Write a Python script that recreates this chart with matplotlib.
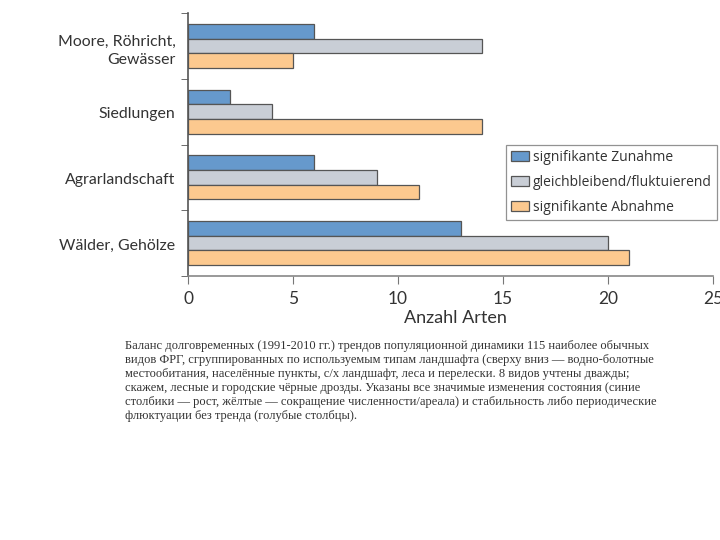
import matplotlib
matplotlib.use("Agg")
import matplotlib.pyplot as plt
import numpy as np

categories = ["Moore, Röhricht,\nGewässer", "Siedlungen", "Agrarlandschaft", "Wälder, Gehölze"]
series_names = ["signifikante Zunahme", "gleichbleibend/fluktuierend", "signifikante Abnahme"]
zunahme = [6, 2, 6, 13]
gleich = [14, 4, 9, 20]
abnahme = [5, 14, 11, 21]
xticks = [0, 5, 10, 15, 20, 25]
xlabel = "Anzahl Arten"
caption = ("Баланс долговременных (1991-2010 гг.) трендов популяционной динамики 115 наиболее обычных\n"
           "видов ФРГ, сгруппированных по используемым типам ландшафта (сверху вниз — водно-болотные\n"
           "местообитания, населённые пункты, с/х ландшафт, леса и перелески. 8 видов учтены дважды;\n"
           "скажем, лесные и городские чёрные дрозды. Указаны все значимые изменения состояния (синие\n"
           "столбики — рост, жёлтые — сокращение численности/ареала) и стабильность либо периодические\n"
           "флюктуации без тренда (голубые столбцы).")

colors = ["#6699cc", "#c9ced6", "#fcc98f"]
edge = "#555555"
txt = "#333333"

fig = plt.figure(figsize=(7.2, 5.4), dpi=100)
W, H = 720, 540
ax = fig.add_axes([188 / W, 1 - 276 / H, (713 - 188) / W, (276 - 13) / H])

n = len(categories)
y = np.arange(n)
bh = 0.223
for i, (vals, c, name) in enumerate(zip([zunahme, gleich, abnahme], colors, series_names)):
    ax.barh(y + (i - 1) * bh, vals, height=bh, color=c, edgecolor=edge, linewidth=0.9, label=name)

ax.set_ylim(n - 0.5, -0.5)
ax.set_xlim(0, 25)
ax.set_yticks(y + 0.02)
ax.set_yticklabels(categories, fontsize=11.4, color=txt, family="Lato", linespacing=1.35)
ax.tick_params(axis="y", length=0, pad=9)
ax.set_yticks(np.arange(n + 1) - 0.5, minor=True)
ax.tick_params(axis="y", which="minor", length=5, color="#555555", direction="out")
ax.set_xticks(xticks)
ax.set_xticklabels([str(t) for t in xticks], fontsize=12.5, color=txt, family="Lato")
ax.tick_params(axis="x", length=6, color="#777777", pad=5)
ax.set_xlabel(xlabel, fontsize=13, color=txt, family="Lato", labelpad=5)
ax.xaxis.set_label_coords((455 - 188) / (713 - 188), -0.13)
for s in ["top", "right"]:
    ax.spines[s].set_visible(False)
ax.spines["left"].set_color("#555555")
ax.spines["bottom"].set_color("#888888")
ax.spines["left"].set_linewidth(1.2)
ax.spines["bottom"].set_linewidth(1.2)

leg = fig.legend(loc="upper left", bbox_to_anchor=(506 / W, 1 - 145 / H), frameon=True,
                 prop={"family": "Open Sans", "size": 10}, handlelength=1.3, handleheight=0.75,
                 handletextpad=0.3, labelspacing=0.72, borderpad=0.35, fancybox=False,
                 borderaxespad=0)
leg.get_frame().set_edgecolor("#777777")
leg.get_frame().set_linewidth(0.9)
for t in leg.get_texts():
    t.set_color(txt)

fig.text(125 / W, 1 - 340 / H, caption, ha="left", va="top", fontsize=9.0,
         family="Liberation Serif", color=txt, linespacing=1.22)

fig.savefig("out.png", dpi=100)
